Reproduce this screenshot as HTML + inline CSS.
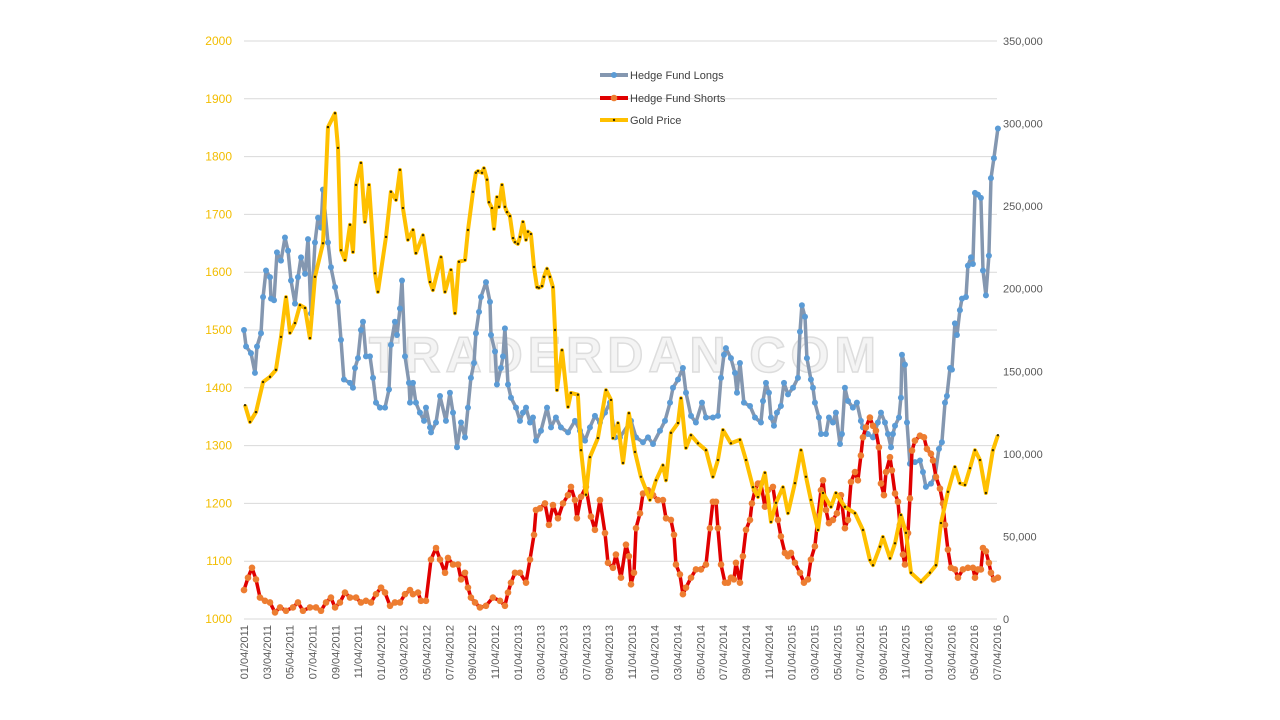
<!DOCTYPE html>
<html><head><meta charset="utf-8">
<style>
html,body{margin:0;padding:0;background:#fff;}
svg{display:block;font-family:"Liberation Sans",sans-serif;}
</style></head>
<body>
<svg id="chart" width="1280" height="720" viewBox="0 0 1280 720" xmlns="http://www.w3.org/2000/svg">
<g id="grid"></g>
<text x="625" y="372" text-anchor="middle" font-family="Liberation Sans,sans-serif" font-weight="bold" font-size="50" letter-spacing="5" fill="#f4f4f4" stroke="#dddddd" stroke-width="1.5">TRADERDAN.COM</text>
<g id="yleft"></g>
<g id="yright"></g>
<g id="xaxis"></g>
<g id="series"></g>
<g id="legend"></g>
</svg>
<script>
// months since Jan 2011 and values
const longsMonths=[0,0.18,0.61,0.96,1.14,1.49,1.67,1.93,2.28,2.37,2.63,2.89,3.24,3.59,3.86,4.12,4.47,4.73,5.0,5.35,5.61,5.87,6.22,6.49,6.75,6.92,7.36,7.62,7.98,8.24,8.5,8.76,9.29,9.55,9.73,9.99,10.25,10.43,10.69,11.04,11.31,11.57,11.92,12.36,12.71,12.88,13.23,13.41,13.67,13.85,14.11,14.46,14.55,14.81,15.07,15.42,15.78,15.95,16.3,16.39,16.83,17.18,17.7,18.05,18.32,18.67,19.02,19.37,19.63,19.89,20.16,20.33,20.6,20.77,21.21,21.56,21.65,22.0,22.17,22.52,22.7,22.87,23.14,23.4,23.84,24.19,24.45,24.72,25.07,25.33,25.59,26.03,26.56,26.91,27.34,27.78,28.4,29.01,29.45,29.89,30.32,30.76,31.2,31.64,32.08,32.52,32.95,33.92,34.36,34.97,35.41,35.85,36.46,36.9,37.34,37.6,38.04,38.47,38.74,39.18,39.61,40.14,40.49,41.1,41.54,41.81,42.07,42.24,42.68,43.03,43.21,43.47,43.82,44.35,44.79,45.31,45.49,45.75,46.01,46.19,46.45,46.71,47.06,47.33,47.68,48.12,48.55,48.73,48.9,49.17,49.34,49.69,49.87,50.04,50.39,50.57,51.01,51.27,51.62,51.88,52.24,52.41,52.67,52.94,53.37,53.72,54.07,54.25,54.68,55.13,55.56,55.83,56.18,56.44,56.71,56.88,57.06,57.41,57.58,57.67,57.93,58.11,58.37,58.81,59.25,59.51,59.77,60.21,60.56,60.91,61.17,61.44,61.61,61.88,62.05,62.31,62.49,62.75,62.93,63.28,63.45,63.72,63.89,64.07,64.33,64.59,64.77,65.03,65.29,65.47,65.73,66.08];
const longsValues=[175,165,161,149,165,173,195,211,207,194,193,222,217,231,223,205,191,207,219,209,230,185,228,243,237,260,228,213,201,192,169,145,143,140,152,158,175,180,159,159,146,131,128,128,139,166,180,172,188,205,159,143,131,143,131,125,120,128,116,113,119,135,120,137,125,104,119,110,128,146,155,173,186,195,204,192,172,162,142,152,159,176,142,134,128,120,125,128,119,122,108,114,128,116,122,116,113,120,114,108,116,123,119,125,131,110,110,120,110,107,110,106,114,120,131,140,145,152,137,123,119,131,122,122,123,146,160,164,158,149,137,155,131,129,122,119,132,143,137,122,117,125,129,143,136,140,146,174,190,183,158,145,140,131,122,112,112,122,119,125,106,112,140,132,128,131,120,116,112,110,119,125,119,112,104,112,117,122,134,160,154,119,94,95,96,89,80,82,86,103,107,131,135,152,151,179,172,187,194,195,214,219,215,258,257,255,211,196,220,267,279,297];
const shortsMonths=[0,0.35,0.7,1.05,1.4,1.84,2.28,2.72,3.16,3.68,4.29,4.73,5.17,5.78,6.31,6.75,7.19,7.62,7.98,8.41,8.85,9.29,9.82,10.25,10.69,11.13,11.57,12.01,12.36,12.8,13.23,13.67,14.11,14.55,14.81,15.25,15.51,15.95,16.39,16.83,17.18,17.62,17.88,18.32,18.76,19.02,19.37,19.63,19.89,20.25,20.68,21.21,21.82,22.44,22.87,23.14,23.4,23.75,24.19,24.72,25.07,25.42,25.59,25.94,26.38,26.73,27.08,27.52,27.96,28.4,28.66,29.01,29.18,29.54,29.97,30.41,30.76,31.2,31.64,31.9,32.34,32.6,33.04,33.48,33.74,33.92,34.18,34.36,34.71,34.97,35.41,35.85,36.28,36.72,36.99,37.42,37.69,37.86,38.21,38.47,38.74,39.18,39.61,40.05,40.49,40.84,41.1,41.37,41.54,41.81,42.16,42.42,42.68,42.94,43.12,43.47,43.73,44.0,44.35,44.52,44.79,45.05,45.31,45.66,45.92,46.36,46.8,47.06,47.41,47.68,47.94,48.29,48.73,49.08,49.43,49.69,50.04,50.31,50.57,50.75,51.01,51.27,51.62,51.97,52.32,52.67,52.94,53.2,53.55,53.81,54.07,54.25,54.51,54.86,55.13,55.39,55.65,55.83,56.09,56.27,56.62,56.79,57.06,57.32,57.49,57.76,57.93,58.2,58.37,58.55,58.81,59.25,59.6,59.86,60.21,60.39,60.65,61.0,61.26,61.44,61.7,61.96,62.31,62.58,63.01,63.45,63.89,64.07,64.33,64.59,64.77,65.03,65.29,65.47,65.73,66.08];
const shortsValues=[17.5,25,31,24,13,11,10,4,7,5,7,10,5,7,7,5,10,13,7,10,16,13,13,10,11,10,15,19,16,8,10,10,15,17.5,15,16,11,11,36,43,36,28,37,33,33,24,28,19,13,10,7,8,13,11,8,16,22,28,28,22,36,51,66,67,70,57,69,61,70,75,80,72,61,74,80,62,54,72,52,34,31,39,25,45,38,21,28,55,64,76,78,75,72,72,61,60,51,33,27,15,19,25,30,30,33,55,71,71,55,33,22,22,25,24,34,22,38,54,60,70,78,82,82,68,78,80,60,50,40,38,40,34,28,22,24,36,44,62,78,84,66,58,60,64,75,55,60,83,89,84,99,110,116,122,117,114,104,82,75,89,98,90,76,71,57,39,33,52,73,102,108,111,110,103,100,96,86,79,70,57,42,31,30,25,30,31,31,25,30,30,43,41,34,28,24,25];
const goldMonths=[0.09,0.53,1.05,1.67,2.28,2.8,3.24,3.68,4.03,4.47,4.91,5.35,5.78,6.22,6.92,7.36,7.98,8.24,8.5,8.85,9.29,9.55,9.82,10.25,10.6,10.96,11.48,11.74,12.45,12.88,13.32,13.67,13.93,14.37,14.81,15.07,15.69,16.3,16.56,17.27,17.62,18.14,18.49,18.84,19.37,19.63,20.07,20.33,20.51,20.86,21.03,21.3,21.47,21.73,21.91,22.17,22.35,22.61,22.87,23.05,23.31,23.58,23.75,24.01,24.19,24.45,24.72,24.89,25.15,25.42,25.68,25.85,26.12,26.29,26.56,26.82,27.08,27.26,27.43,27.87,28.4,28.66,29.27,29.54,29.97,30.32,31.02,31.73,32.17,32.34,32.78,33.22,33.74,34.27,34.79,35.58,36.11,36.72,36.99,37.42,38.04,38.3,38.74,39.18,39.79,40.49,41.1,41.54,41.98,42.68,43.47,44.0,44.61,45.05,45.66,46.19,46.63,47.24,47.68,48.29,48.82,49.26,49.69,50.31,50.75,51.45,51.88,52.67,53.55,54.25,54.86,55.13,55.74,56.0,56.62,57.06,57.58,58.02,58.46,59.34,60.12,60.65,61.09,61.7,62.31,62.75,63.19,63.63,64.07,64.51,65.03,65.64,66.08];
const goldValues=[1370,1341,1358,1410,1419,1431,1488,1557,1495,1512,1543,1538,1486,1592,1650,1851,1875,1815,1638,1621,1682,1635,1751,1789,1687,1751,1598,1566,1661,1739,1725,1777,1711,1656,1673,1633,1664,1583,1569,1626,1566,1604,1529,1618,1621,1673,1739,1772,1775,1772,1780,1760,1721,1711,1675,1730,1713,1751,1713,1704,1697,1659,1652,1649,1661,1687,1656,1670,1666,1609,1574,1573,1576,1592,1606,1592,1574,1500,1396,1465,1367,1391,1388,1292,1215,1280,1313,1396,1379,1313,1339,1270,1356,1289,1246,1206,1240,1266,1240,1322,1339,1382,1296,1318,1304,1292,1246,1275,1327,1304,1310,1275,1228,1211,1253,1168,1201,1228,1183,1235,1292,1246,1206,1154,1218,1194,1218,1194,1183,1154,1102,1093,1125,1142,1105,1131,1180,1149,1080,1064,1080,1093,1166,1220,1263,1235,1232,1261,1292,1275,1218,1292,1318];
const leftTicks=[1000,1100,1200,1300,1400,1500,1600,1700,1800,1900,2000];
const rightTicks=[0,50,100,150,200,250,300,350];
const xLabels=[];
for(let y=2011;y<=2016;y++){for(const m of ['01','03','05','07','09','11']){if(y===2016&&+m>7)continue;xLabels.push(m+'/04/'+y);}}

const NS='http://www.w3.org/2000/svg';
const X0=244,X1=997,Y0=619,Y1=41;
function xScale(mo){return X0+mo*(X1-X0)/66;}
function yLeft(v){return Y0-(v-1000)*(Y0-Y1)/1000;}
function yRight(k){return Y0-k*(Y0-Y1)/350;}
function el(tag,attrs,parent){const e=document.createElementNS(NS,tag);for(const k in attrs)e.setAttribute(k,attrs[k]);parent.appendChild(e);return e;}
const grid=document.getElementById('grid'),yl=document.getElementById('yleft'),yr=document.getElementById('yright'),xa=document.getElementById('xaxis'),ser=document.getElementById('series'),leg=document.getElementById('legend');

leftTicks.forEach(v=>{
  const y=yLeft(v);
  const g=el('line',{x1:X0,x2:X1,y1:y,y2:y,stroke:'#d9d9d9','stroke-width':1},grid);
  
  
  const t=el('text',{x:232,y:y+4,'text-anchor':'end','font-size':12,fill:'#f2bd00'},yl);
  t.textContent=v;
  
  
});
rightTicks.forEach(k=>{
  const t=el('text',{x:1003,y:yRight(k)+4,'font-size':11,fill:'#595959'},yr);
  t.textContent=k===0?'0':(k+',000');
  
  
});
xLabels.forEach((s,i)=>{
  const x=xScale(i*2)+4;
  const t=el('text',{x:x,y:625,'text-anchor':'end','font-size':11,fill:'#595959',transform:'rotate(-90 '+x+' 625)'},xa);
  t.textContent=s;
  
  
});

function drawSeries(months,vals,yf,lineColor,lw,name,marker){
  const g=el('g',{},ser);
  
  
  const pts=months.map((m,i)=>xScale(m).toFixed(1)+','+yf(vals[i]).toFixed(1)).join(' ');
  const pl=el('polyline',{points:pts,fill:'none',stroke:lineColor,'stroke-width':lw,'stroke-linejoin':'round'},g);
  
  
  months.forEach((m,i)=>{
    const c=el('circle',{cx:xScale(m),cy:yf(vals[i]),r:marker.r,fill:marker.fill},g);
    
    
  });
}
drawSeries(longsMonths,longsValues,yRight,'#8497b0',3.5,'hedge-fund-longs',{r:3,fill:'#5b9bd5'});
drawSeries(shortsMonths,shortsValues,yRight,'#e00000',3.5,'hedge-fund-shorts',{r:3.3,fill:'#ed7d31'});
drawSeries(goldMonths,goldValues,yLeft,'#ffc000',4,'gold-price',{r:1.2,fill:'#3a2e00'});

const legItems=[['Hedge Fund Longs','#8497b0','#5b9bd5',3,75],['Hedge Fund Shorts','#e00000','#ed7d31',3.3,98],['Gold Price','#ffc000','#3a2e00',1.2,120]];
legItems.forEach(([label,lc,mc,r,y])=>{
  const g=el('g',{},leg);
  
  
  el('line',{x1:600,x2:628,y1:y,y2:y,stroke:lc,'stroke-width':4},g);
  el('circle',{cx:614,cy:y,r:r,fill:mc},g);
  const t=el('text',{x:630,y:y+4,'font-size':11,fill:'#404040'},g);
  t.textContent=label;
});
</script>
</body></html>
